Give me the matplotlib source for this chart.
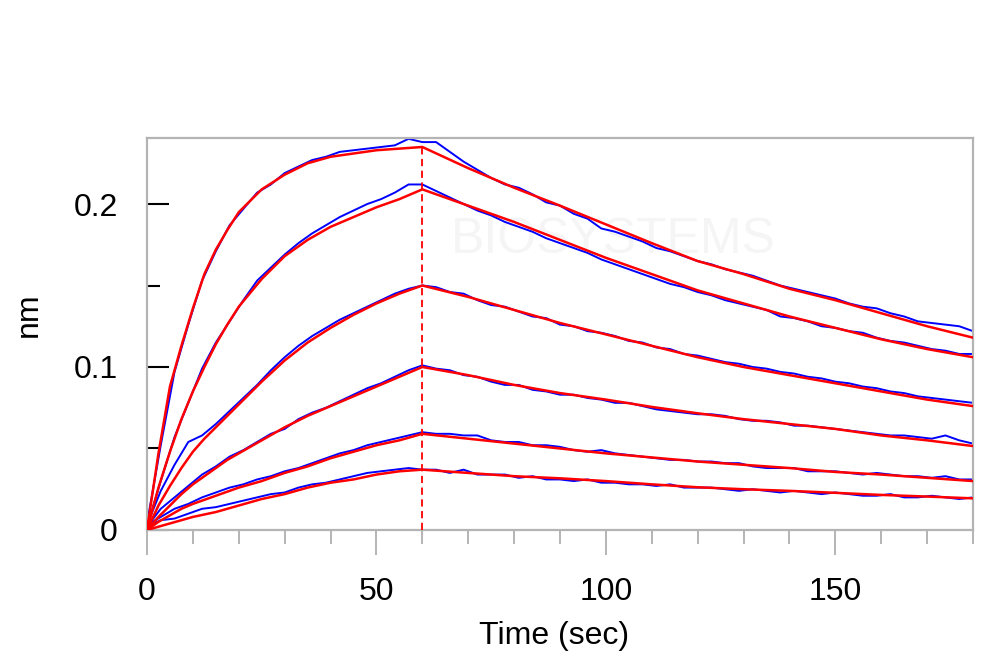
import numpy as np
import matplotlib
matplotlib.use("Agg")
from matplotlib import pyplot as plt
from matplotlib.ticker import MultipleLocator, FixedLocator, FixedFormatter

# fitted curves (red)
fit_t = [0, 2.5, 5, 7.5, 10, 12.5, 15, 17.5, 20, 25, 30, 35, 40, 45, 50, 55, 60,
         70, 80, 90, 100, 110, 120, 130, 140, 150, 160, 170, 180]
fit_1 = [0, 0.047, 0.088, 0.113, 0.136, 0.157, 0.172, 0.184, 0.195, 0.209, 0.218, 0.225, 0.229, 0.231, 0.233, 0.234, 0.235,
         0.222, 0.210, 0.199, 0.1875, 0.176, 0.165, 0.157, 0.148, 0.141, 0.133, 0.125, 0.118]
fit_2 = [0, 0.026, 0.048, 0.068, 0.085, 0.100, 0.114, 0.126, 0.137, 0.154, 0.168, 0.178, 0.186, 0.192, 0.198, 0.203, 0.209,
         0.199, 0.189, 0.178, 0.167, 0.157, 0.147, 0.139, 0.131, 0.124, 0.117, 0.111, 0.106]
fit_3 = [0, 0.015, 0.027, 0.038, 0.048, 0.056, 0.063, 0.070, 0.077, 0.091, 0.104, 0.115, 0.124, 0.132, 0.139, 0.145, 0.150,
         0.143, 0.135, 0.127, 0.120, 0.113, 0.106, 0.100, 0.095, 0.090, 0.085, 0.080, 0.076]
fit_4 = [0, 0.008, 0.015, 0.022, 0.028, 0.033, 0.038, 0.043, 0.047, 0.055, 0.063, 0.070, 0.076, 0.082, 0.088, 0.094, 0.100,
         0.095, 0.089, 0.084, 0.080, 0.0755, 0.0716, 0.068, 0.065, 0.062, 0.058, 0.055, 0.0515]
fit_5 = [0, 0.005, 0.009, 0.013, 0.016, 0.0185, 0.021, 0.0235, 0.026, 0.030, 0.035, 0.039, 0.044, 0.048, 0.052, 0.055, 0.059,
         0.056, 0.053, 0.050, 0.047, 0.0445, 0.042, 0.040, 0.038, 0.0356, 0.034, 0.032, 0.030]
fit_6 = [0, 0.002, 0.004, 0.006, 0.008, 0.0095, 0.011, 0.013, 0.015, 0.019, 0.022, 0.026, 0.029, 0.031, 0.034, 0.036, 0.037,
         0.035, 0.033, 0.0317, 0.030, 0.028, 0.0262, 0.025, 0.024, 0.0228, 0.0215, 0.0205, 0.0194]

# measured traces (blue), every 3 s
raw_t = np.arange(0, 181, 3)
raw_1 = [0.004, 0.052, 0.097, 0.126, 0.153, 0.171, 0.187, 0.197, 0.207, 0.212,
         0.219, 0.223, 0.227, 0.229, 0.232, 0.233, 0.234, 0.235, 0.236, 0.240, 0.238,
         0.238, 0.232, 0.226, 0.221, 0.216, 0.212, 0.210, 0.206, 0.201, 0.199,
         0.194, 0.191, 0.185, 0.183, 0.180, 0.177, 0.173, 0.171, 0.168, 0.165,
         0.163, 0.160, 0.158, 0.156, 0.153, 0.150, 0.148, 0.146, 0.144, 0.142,
         0.139, 0.137, 0.136, 0.133, 0.131, 0.128, 0.127, 0.126, 0.125, 0.122]
raw_2 = [0.002, 0.030, 0.057, 0.078, 0.099, 0.115, 0.128, 0.141, 0.153, 0.161,
         0.169, 0.176, 0.182, 0.187, 0.192, 0.196, 0.200, 0.203, 0.207, 0.212, 0.212,
         0.208, 0.204, 0.200, 0.196, 0.193, 0.189, 0.186, 0.183, 0.179, 0.176,
         0.173, 0.170, 0.166, 0.163, 0.160, 0.157, 0.154, 0.151, 0.149, 0.146,
         0.144, 0.141, 0.139, 0.137, 0.135, 0.131, 0.130, 0.128, 0.125, 0.124,
         0.122, 0.121, 0.118, 0.116, 0.115, 0.113, 0.111, 0.110, 0.108, 0.108]
raw_3 = [0.003, 0.024, 0.040, 0.054, 0.058, 0.065, 0.073, 0.081, 0.089, 0.098,
         0.106, 0.113, 0.119, 0.124, 0.129, 0.133, 0.137, 0.141, 0.145, 0.148, 0.150,
         0.149, 0.146, 0.145, 0.141, 0.138, 0.137, 0.134, 0.131, 0.130, 0.126,
         0.125, 0.122, 0.121, 0.119, 0.116, 0.115, 0.112, 0.111, 0.108, 0.107,
         0.105, 0.103, 0.102, 0.100, 0.099, 0.097, 0.096, 0.094, 0.093, 0.091,
         0.090, 0.088, 0.087, 0.085, 0.084, 0.082, 0.081, 0.080, 0.079, 0.078]
raw_4 = [0.002, 0.013, 0.020, 0.027, 0.034, 0.039, 0.045, 0.049, 0.054, 0.059,
         0.062, 0.068, 0.072, 0.075, 0.079, 0.083, 0.087, 0.090, 0.094, 0.098, 0.101,
         0.099, 0.098, 0.095, 0.094, 0.091, 0.089, 0.089, 0.086, 0.085, 0.083,
         0.083, 0.081, 0.080, 0.078, 0.078, 0.076, 0.074, 0.073, 0.072, 0.071,
         0.071, 0.070, 0.068, 0.067, 0.067, 0.066, 0.064, 0.064, 0.063, 0.062,
         0.061, 0.060, 0.059, 0.058, 0.058, 0.057, 0.056, 0.058, 0.055, 0.053]
raw_5 = [0.003, 0.008, 0.013, 0.016, 0.020, 0.023, 0.026, 0.028, 0.031, 0.033,
         0.036, 0.038, 0.041, 0.044, 0.047, 0.049, 0.052, 0.054, 0.056, 0.058, 0.060,
         0.059, 0.059, 0.058, 0.058, 0.055, 0.054, 0.054, 0.052, 0.052, 0.051,
         0.049, 0.048, 0.049, 0.047, 0.046, 0.045, 0.044, 0.043, 0.043, 0.042,
         0.042, 0.041, 0.041, 0.039, 0.038, 0.038, 0.038, 0.036, 0.036, 0.036,
         0.035, 0.034, 0.035, 0.034, 0.033, 0.033, 0.032, 0.033, 0.031, 0.031]
raw_6 = [0.002, 0.006, 0.007, 0.010, 0.013, 0.014, 0.016, 0.018, 0.020, 0.022,
         0.023, 0.026, 0.028, 0.029, 0.031, 0.033, 0.035, 0.036, 0.037, 0.038, 0.037,
         0.037, 0.035, 0.037, 0.034, 0.034, 0.034, 0.032, 0.033, 0.031, 0.031,
         0.030, 0.031, 0.029, 0.029, 0.028, 0.028, 0.027, 0.028, 0.026, 0.026,
         0.026, 0.025, 0.024, 0.025, 0.024, 0.023, 0.024, 0.023, 0.022, 0.023,
         0.022, 0.021, 0.021, 0.022, 0.020, 0.020, 0.021, 0.020, 0.019, 0.020]

raws = [raw_1, raw_2, raw_3, raw_4, raw_5, raw_6]
fits = [fit_1, fit_2, fit_3, fit_4, fit_5, fit_6]
switch_t = 60

FS = 23
plt.rcParams["font.family"] = ["Liberation Sans", "DejaVu Sans"]
fig = plt.figure(figsize=(10, 6.7), dpi=100)
ax = fig.add_axes([0.147, 0.209, 0.826, 0.585])

# faint watermark
ax.text(0.565, 0.74, "BIOSYSTEMS", transform=ax.transAxes, fontsize=36,
        color="#f5f5f5", ha="center", va="center", zorder=0)

for r in raws:
    ax.plot(raw_t, r, color="#0000ff", linewidth=1.4, zorder=2)
for f in fits:
    ax.plot(fit_t, f, color="#ff0000", linewidth=1.8, zorder=3)
ax.vlines(switch_t, 0, fit_1[fit_t.index(switch_t)], colors="#ff0000",
          linestyles=(0, (4, 2.5)), linewidth=1.3, zorder=4)

ax.set_xlim(0, 180)
ax.set_ylim(0, 0.2405)

for s in ax.spines.values():
    s.set_color("#b4b4b4")
    s.set_linewidth(1.6)

ax.xaxis.set_major_locator(FixedLocator([0, 50, 100, 150]))
ax.xaxis.set_minor_locator(MultipleLocator(10))
ax.tick_params(axis="x", which="major", direction="out", length=18, width=1.4,
               color="#b4b4b4", labelsize=FS, pad=16, labelcolor="black")
ax.tick_params(axis="x", which="minor", direction="out", length=10, width=1.4,
               color="#b4b4b4")

ax.yaxis.set_major_locator(FixedLocator([0, 0.1, 0.2]))
ax.yaxis.set_major_formatter(FixedFormatter(["0", "0.1", "0.2"]))
ax.yaxis.set_minor_locator(FixedLocator([0.05, 0.15]))
ax.tick_params(axis="y", which="major", direction="in", length=16, width=1.5,
               color="black", labelsize=FS, pad=21)
ax.tick_params(axis="y", which="minor", direction="in", length=9.5, width=1.5,
               color="black")

ax.set_xlabel("Time (sec)", fontsize=FS)
ax.set_ylabel("nm", fontsize=FS)
ax.xaxis.set_label_coords(0.4927, -0.232)
ax.yaxis.set_label_coords(-0.125, 0.55)

fig.savefig("out.png", dpi=100)
